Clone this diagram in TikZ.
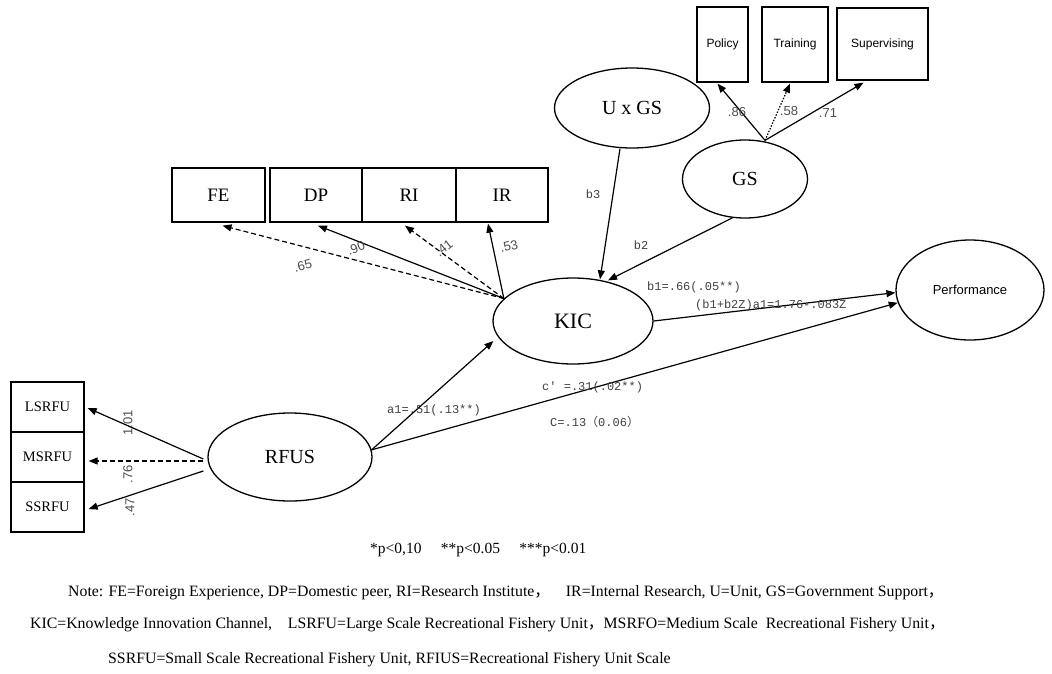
\documentclass[tikz,border=0pt]{standalone}
\usepackage{fontspec}
\setmainfont{Liberation Serif}
\newfontfamily\arialf{Liberation Sans}
\newfontfamily\monof{Liberation Mono}
\newfontfamily\cjkf{Noto Sans CJK SC}
\usetikzlibrary{arrows.meta,calc,shapes.geometric}
\begin{document}
\begin{tikzpicture}[x=1pt,y=-1pt,
  box/.style={draw, line width=1.3pt, inner sep=0pt},
  lat/.style={draw, ellipse, line width=1.3pt, inner sep=0pt},
  arr/.style={line width=1.2pt, -{Triangle[length=9pt,width=7pt]}},
  dsh/.style={arr, dash pattern=on 5pt off 3pt},
  dotl/.style={arr, dash pattern=on 1.5pt off 1.5pt},
  coef/.style={font=\arialf\fontsize{13}{15}\selectfont, text=black!70, inner sep=0pt},
  mlab/.style={font=\monof\fontsize{12}{14}\selectfont, text=black!75, inner sep=0pt},
  big/.style={font=\fontsize{19}{22}\selectfont},
  sml/.style={font=\arialf\fontsize{12}{14}\selectfont},
  note/.style={font=\fontsize{15.8}{18}\selectfont, anchor=west, inner sep=0pt},
]
\useasboundingbox (0,0) rectangle (1052,673);

% indicator boxes of KIC
\node[box, big, minimum width=93, minimum height=54] (fe) at (218.5,195) {FE};
\node[box, big, minimum width=92, minimum height=54] (dp) at (316,195) {DP};
\node[box, big, minimum width=94, minimum height=54] (ri) at (409,195) {RI};
\node[box, big, minimum width=92, minimum height=54] (ir) at (502,195) {IR};

% GS indicators
\node[box, sml, minimum width=51, minimum height=75] (policy) at (722.5,44.5) {Policy};
\node[box, sml, minimum width=66, minimum height=75] (training) at (795,44.5) {Training};
\node[box, sml, minimum width=91, minimum height=72] (supervising) at (882.5,44) {Supervising};

% latent variables
\node[lat, font=\fontsize{20}{24}\selectfont, minimum width=155, minimum height=80] (uxgs) at (632,108) {U x GS};
\node[lat, font=\fontsize{20}{24}\selectfont, minimum width=125, minimum height=78] (gs) at (745,179) {GS};
\node[lat, font=\fontsize{22}{26}\selectfont, minimum width=160, minimum height=86] (kic) at (573,321) {KIC};
\node[lat, font=\arialf\fontsize{13}{15}\selectfont, minimum width=148, minimum height=100] (perf) at (970,290) {Performance};
\node[lat, font=\fontsize{20}{24}\selectfont, minimum width=164, minimum height=88] (rfus) at (290,457) {RFUS};

% RFUS indicators
\node[box, font=\fontsize{14.5}{17}\selectfont, minimum width=73, minimum height=50] (lsrfu) at (47.5,407) {LSRFU};
\node[box, font=\fontsize{14.5}{17}\selectfont, minimum width=73, minimum height=50] (msrfu) at (47.5,457) {MSRFU};
\node[box, font=\fontsize{14.5}{17}\selectfont, minimum width=73, minimum height=50] (ssrfu) at (47.5,507) {SSRFU};

% KIC -> indicators
\draw[dsh] (kic.162) -- ($(fe.south)+(4,3)$);
\draw[arr] (kic.162) -- ($(dp.south)+(2,3)$);
\draw[dsh] (kic.162) -- ($(ri.south)+(-4,3)$);
\draw[arr] (kic.162) -- ($(ir.south)+(-14,1)$);
\node[coef, rotate=15] (l65) at (303,266) {.65};
\node[coef, rotate=22] (l90) at (356,248) {.90};
\node[coef, rotate=38] (l41) at (444,248) {.41};
\node[coef, rotate=12] (l53) at (509,246) {.53};

% GS -> indicators
\coordinate (gstop) at ($(gs.north)+(20,1)$);
\draw[arr] (gstop) -- ($(policy.south)+(-5,1)$);
\draw[dotl] (gstop) -- ($(training.south)+(-5,1)$);
\draw[arr] (gstop) -- ($(supervising.south)+(-19,2)$);
\node[coef] (l86) at (737,112) {.86};
\node[coef] (l58) at (789,111) {.58};
\node[coef] (l71) at (828,113) {.71};

% moderation paths
\draw[arr] ($(uxgs.south)+(-12,0)$) -- ($(kic.north)+(27,2)$);
\draw[arr] (gs.252) -- ($(kic.north)+(35,3)$);
\node[mlab] (lb3) at (593,194) {b3};
\node[mlab] (lb2) at (641,245) {b2};

% structural paths
\draw[arr] (kic.east) -- (perf.182);
\draw[arr] (rfus.5) -- (perf.190);
\draw[arr] (rfus.5) -- ($(kic.west)+(1,20)$);
\node[mlab, anchor=west] (lb1) at (647,287) {b1=.66(.05**)};
\node[mlab, anchor=west] (lind) at (695,305) {(b1+b2Z)a1=1.76-.083Z};
\node[mlab, anchor=west] (la1) at (387,410) {a1=.51(.13**)};
\node[mlab, anchor=west] (lcp) at (542,387) {c' =.31(.02**)};
\node[mlab, anchor=west] (lc) at (550,422) {C=.13{\cjkf （}0.06{\cjkf ）}};

% RFUS -> indicators
\draw[arr] ($(rfus.west)+(-4,2)$) -- ($(lsrfu.east)+(3,1)$);
\draw[dsh] ($(rfus.west)+(-4,4)$) -- ($(msrfu.east)+(4,4)$);
\draw[arr] ($(rfus.west)+(-4,14)$) -- ($(ssrfu.east)+(4,2)$);
\node[coef, rotate=90] (l101) at (128,423) {1.01};
\node[coef, rotate=90] (l76) at (128,474) {.76};
\node[coef, rotate=90] (l47) at (130,507) {.47};

% footnotes
\node[font=\fontsize{15.5}{18}\selectfont, inner sep=0pt, anchor=west] (sig) at (370,550) {*p<0,10\quad\ **p<0.05\quad\ ***p<0.01};
\node[note] (n1) at (68,593) {Note: FE=Foreign Experience, DP=Domestic peer, RI=Research Institute{\cjkf ，}\quad IR=Internal Research, U=Unit, GS=Government Support{\cjkf ，}};
\node[note] (n2) at (30,625) {KIC=Knowledge Innovation Channel,\quad LSRFU=Large Scale Recreational Fishery Unit{\cjkf ，}MSRFO=Medium Scale\ \ Recreational Fishery Unit{\cjkf ，}};
\node[note] (n3) at (108,660) {SSRFU=Small Scale Recreational Fishery Unit, RFIUS=Recreational Fishery Unit Scale};
\end{tikzpicture}
\end{document}
